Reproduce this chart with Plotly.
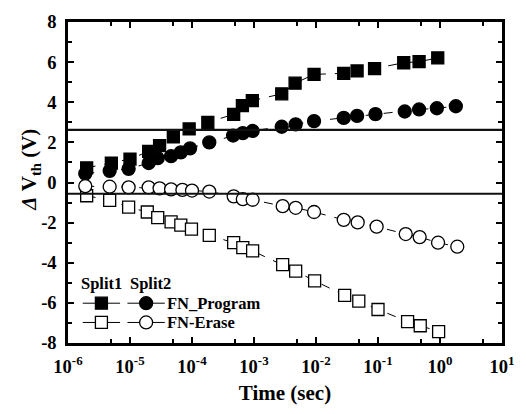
import plotly.graph_objects as go

# ---------------- data ----------------
t_split1_prog = [2e-6, 5e-6, 1e-5, 2e-5, 3e-5, 5e-5, 9e-5, 1.8e-4, 4.7e-4, 6.5e-4, 9.4e-4,
                 2.8e-3, 4.6e-3, 9.3e-3, 2.8e-2, 4.6e-2, 8.8e-2, 0.26, 0.46, 0.92]
v_split1_prog = [0.73, 0.97, 1.17, 1.55, 1.84, 2.28, 2.67, 3.0, 3.4, 3.83, 4.08,
                 4.42, 4.95, 5.39, 5.44, 5.56, 5.68, 5.97, 6.02, 6.21]

t_split2_prog = [1.9e-6, 4.7e-6, 9.5e-6, 2e-5, 2.8e-5, 4.6e-5, 6.6e-5, 9.3e-5, 1.9e-4, 4.6e-4,
                 6.6e-4, 9.5e-4, 2.8e-3, 4.7e-3, 9.3e-3, 2.8e-2, 4.6e-2, 9.1e-2, 0.27, 0.46, 0.89, 1.8]
v_split2_prog = [0.44, 0.58, 0.68, 0.97, 1.21, 1.31, 1.5, 1.7, 2.0, 2.34,
                 2.46, 2.57, 2.78, 2.9, 3.06, 3.22, 3.32, 3.41, 3.54, 3.64, 3.7, 3.8]

t_split1_erase = [2e-6, 4.7e-6, 9.5e-6, 1.9e-5, 2.8e-5, 4.6e-5, 6.6e-5, 9.8e-5, 1.9e-4, 4.7e-4,
                  6.6e-4, 9.5e-4, 2.9e-3, 4.7e-3, 9.5e-3, 2.9e-2, 4.9e-2, 0.1, 0.3, 0.48, 0.95]
v_split1_erase = [-0.66, -0.89, -1.23, -1.47, -1.75, -1.96, -2.12, -2.32, -2.64, -3.0,
                  -3.25, -3.41, -4.09, -4.42, -4.9, -5.63, -5.91, -6.33, -6.93, -7.14, -7.43]

t_split2_erase = [1.9e-6, 4.7e-6, 9.5e-6, 2e-5, 3e-5, 4.6e-5, 7e-5, 1e-4, 1.9e-4, 4.7e-4,
                  6.6e-4, 9.5e-4, 2.9e-3, 4.7e-3, 9.3e-3, 2.8e-2, 4.7e-2, 9.5e-2, 0.28, 0.47, 0.93, 1.9]
v_split2_erase = [-0.18, -0.21, -0.24, -0.24, -0.29, -0.34, -0.37, -0.4, -0.45, -0.69,
                  -0.83, -0.86, -1.18, -1.26, -1.47, -1.86, -1.99, -2.2, -2.57, -2.72, -3.0, -3.2]

hline_values = [2.62, -0.56]

x_tick_vals = [1e-6, 1e-5, 1e-4, 1e-3, 1e-2, 1e-1, 1e0, 1e1]
x_tick_text = ["10<sup>-6</sup>", "10<sup>-5</sup>", "10<sup>-4</sup>", "10<sup>-3</sup>",
               "10<sup>-2</sup>", "10<sup>-1</sup>", "10<sup>0</sup>", "10<sup>1</sup>"]
x_minor_vals = [5e-6, 5e-5, 5e-4, 5e-3, 5e-2, 5e-1, 5e0]
y_tick_vals = [-8, -6, -4, -2, 0, 2, 4, 6, 8]
y_tick_text = ["-8", "-6", "-4", "-2", "0", "2", "4", "6", "8"]

legend_header = ["Split1", "Split2"]
legend_rows = ["FN_Program", "FN-Erase"]

SERIF = "Liberation Serif, Times New Roman, serif"

fig = go.Figure()

def add_series(t, v, symbol, fill):
    fig.add_trace(go.Scatter(
        x=t, y=v, mode="lines+markers",
        line=dict(color="black", width=1, dash="dash"),
        marker=dict(symbol=symbol, size=12 if "square" in symbol else 13,
                    color=fill, line=dict(color="black", width=1.3)),
        showlegend=False, cliponaxis=False))

add_series(t_split1_prog, v_split1_prog, "square", "black")
add_series(t_split2_prog, v_split2_prog, "circle", "black")
add_series(t_split1_erase, v_split1_erase, "square", "white")
add_series(t_split2_erase, v_split2_erase, "circle", "white")

for hv in hline_values:
    fig.add_shape(type="line", xref="paper", x0=0, x1=1, yref="y", y0=hv, y1=hv,
                  line=dict(color="#111", width=2.2), layer="above")

# ---------- custom legend (overlay axis in plot-area fraction units) ----------
lx_sq, lx_ci = 0.077, 0.18
row_y = [0.124, 0.064]
seg = 0.043
symbols = [("square", "circle"), ("square", "circle")]
fills = ["black", "white"]
for i, ry in enumerate(row_y):
    for cx, sym in zip([lx_sq, lx_ci], symbols[i]):
        fig.add_trace(go.Scatter(
            x=[cx - seg, cx + seg], y=[ry, ry], mode="lines",
            line=dict(color="black", width=1), xaxis="x2", yaxis="y2",
            showlegend=False, hoverinfo="skip"))
        fig.add_trace(go.Scatter(
            x=[cx], y=[ry], mode="markers", xaxis="x2", yaxis="y2",
            marker=dict(symbol=sym, size=12 if sym == "square" else 13, color=fills[i],
                        line=dict(color="black", width=1.3)),
            showlegend=False, hoverinfo="skip"))
    fig.add_annotation(x=0.224, y=ry, xref="x2", yref="y2", text="<b>%s</b>" % legend_rows[i],
                       showarrow=False, xanchor="left", yanchor="middle",
                       font=dict(family=SERIF, size=16.5, color="black"))
for cx, txt in zip([0.078, 0.19], legend_header):
    fig.add_annotation(x=cx, y=0.185, xref="x2", yref="y2", text="<b>%s</b>" % txt,
                       showarrow=False, xanchor="center", yanchor="middle",
                       font=dict(family=SERIF, size=16.5, color="black"))

# y-axis title
fig.add_annotation(x=-0.122, y=0.54, xref="paper", yref="paper",
                   text="<b><i>Δ</i> V<sub>th</sub> (V)</b>", textangle=-90,
                   showarrow=False, font=dict(family=SERIF, size=21, color="black"))

axis_common = dict(showline=True, linecolor="black", linewidth=2.5, mirror="allticks",
                   ticks="inside", tickcolor="black", tickwidth=2, ticklen=6,
                   showgrid=False, zeroline=False,
                   tickfont=dict(family=SERIF, size=18.5, color="black", weight="bold"))

fig.update_layout(
    width=526, height=414,
    margin=dict(l=68, r=15, t=14, b=70),
    paper_bgcolor="white", plot_bgcolor="white",
    xaxis=dict(type="log", range=[-6, 1], tickmode="array", tickvals=x_tick_vals,
               ticktext=x_tick_text,
               minor=dict(tickmode="array", tickvals=x_minor_vals, ticks="inside",
                          ticklen=4, tickwidth=2, tickcolor="black"),
               ticklabelstandoff=5,
               title=dict(text="<b>Time (sec)</b>", standoff=10,
                          font=dict(family=SERIF, size=21, color="black")),
               **axis_common),
    yaxis=dict(range=[-8, 8], tickmode="array", tickvals=y_tick_vals, ticktext=y_tick_text,
               minor=dict(dtick=1, ticks="inside", ticklen=4, tickwidth=2, tickcolor="black"),
               ticklabelstandoff=5,
               **axis_common),
    xaxis2=dict(overlaying="x", range=[0, 1], visible=False, anchor="y2"),
    yaxis2=dict(overlaying="y", range=[0, 1], visible=False, anchor="x2"),
)

fig.write_html("out.html")
